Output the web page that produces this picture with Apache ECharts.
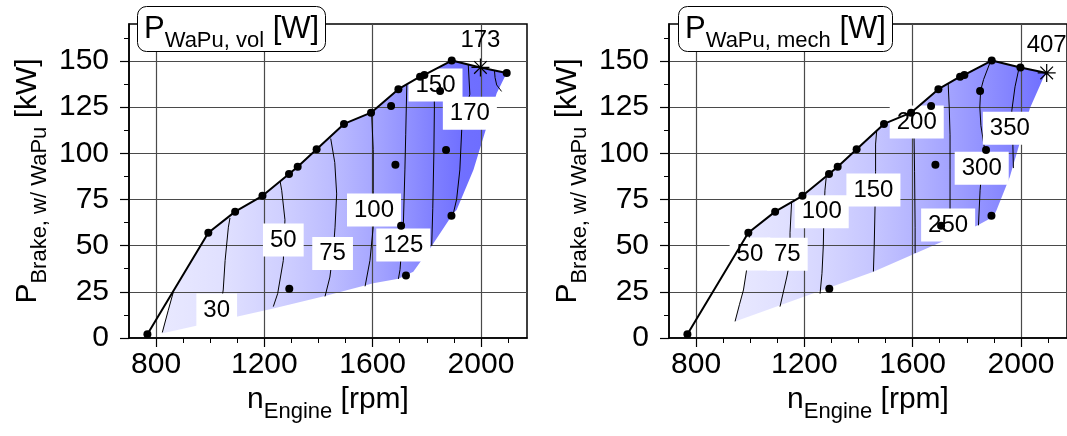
<!DOCTYPE html>
<html><head><meta charset="utf-8">
<script src="https://cdn.jsdelivr.net/npm/echarts@6/dist/echarts.min.js"></script>
<style>html,body{margin:0;padding:0;background:#fff}#c{width:1067px;height:436px}</style>
</head><body><div id="c"></div>
<script>
const FONT = '"Liberation Sans", Arial, Helvetica, sans-serif';

// ---------- axis ticks ----------
const xMajorTicks = [800, 1200, 1600, 2000];
const xMinorTicks = [900, 1000, 1100, 1300, 1400, 1500, 1700, 1800, 1900, 2100];
const yMajorTicks = [0, 25, 50, 75, 100, 125, 150];
const yMinorTicks = [12.5, 37.5, 62.5, 87.5, 112.5, 137.5, 162.5];

// ---------- measured operating points (rpm, kW) ----------
const fullLoad = [[768,2],[993,57],[1092,68.4],[1193,77],[1291,88.8],[1323,92.7],[1393,102.2],[1494,115.9],[1594,122],[1695,134.7],[1775,141.5],[1791,142.4],[1892,150.2],[1998,146.5],[2095,143.5]];
const innerVol  = [[1668,125.6],[1849,133.7],[1871,101.8],[1684,93.8],[1705,60.8],[1891,66.2],[1292,26.7],[1723,33.9]];
const innerMech = [[1668,125.6],[1849,133.7],[1871,101.8],[1684,93.8],[1705,60.8],[1891,66.2],[1292,26.7]];
const maxVol  = [1998, 146.5, '173'];
const maxMech = [2095, 143.5, '407'];

// ---------- map region (lower / right boundary, rpm-kW) ----------
const volEdgeStart  = [[821,2.5],[864,25.5]];
const volEdgeEnd    = [[2058,132.5],[2021,114.4],[1972,90.9],[1910,69.3],[1898,67.5],[1818,49.8],[1750,35.9],[1695,32.1],[1602,29.6],[1424,22.7],[1233,16]];
const mechEdgeStart = [[944,9],[960,18],[975,26],[990,40]];
const mechEdgeEnd   = [[2082,140.6],[2033,124.4],[1959,87.3],[1910,69.3],[1898,65.7],[1842,61.2],[1750,54.8],[1609,45.8],[1455,35.9]];

// ---------- iso-lines P_WaPu,vol [W] ----------
const vol20  = [[823,3],[845,15],[864,25]];
const vol30  = [[1028,8],[1048,26],[1055,42],[1067,60],[1073,65]];
const vol50  = [[1233,17],[1249,24],[1270,42],[1276,64],[1264,80],[1258,85]];
const vol75  = [[1424,22.5],[1442,33],[1455,48],[1461,60],[1467,78],[1460,95],[1445,108]];
const vol100 = [[1572,28],[1590,42],[1602,60],[1602,80],[1602,102],[1596,122]];
const vol125 = [[1695,32],[1701,37],[1713,60],[1719,91],[1722,110],[1726,137]];
const vol150 = [[1818,50],[1822,70],[1826,100],[1828,125],[1826,144]];
const vol170 = [[1898,67.5],[1910,75],[1922,91],[1929,113],[1945,125],[1959,132],[1953,148]];
const vol170b= [[2050,144.5],[2052,141],[2058,137],[2076,133.5]];
const volLevels = [20,30,50,75,100,125,150,170,170];
const volLines  = [vol20,vol30,vol50,vol75,vol100,vol125,vol150,vol170,vol170b];
const volLabels = [[1024,15.1,'30'],[1270,53,'50'],[1452,45.8,'75'],[1605,69.3,'100'],[1713,50.3,'125'],[1832,137,'150'],[1959,121.7,'170']];

// ---------- iso-lines P_WaPu,mech [W] ----------
const mech50  = [[944,9],[960,18],[975,26],[990,40],[998,57]];
const mech75  = [[1110,17],[1135,33],[1147,42],[1147,57],[1153,74]];
const mech100 = [[1258,24],[1265,35],[1270,50],[1272,65],[1276,80],[1282,89]];
const mech150 = [[1455,36],[1458,50],[1461,71],[1463,90],[1463,105],[1467,112]];
const mech200 = [[1609,46],[1609,60],[1607,90],[1605,110],[1600,122]];
const mech250 = [[1738,55],[1738,72],[1738,91],[1738,110],[1735,125],[1731,138]];
const mech300 = [[1843,61],[1849,80],[1858,95],[1866,102],[1852,115],[1848,125],[1851,134],[1862,140],[1888,150]];
const mech350 = [[1972,92],[1970,105],[1966,123],[1978,136],[1994,147]];
const mechLevels = [50,75,100,150,200,250,300,350];
const mechLines  = [mech50,mech75,mech100,mech150,mech200,mech250,mech300,mech350];
const mechLabels = [[999,45.5,'50'],[1137,45.4,'75'],[1264,68.4,'100'],[1455,80.1,'150'],[1615,117,'200'],[1731,61.2,'250'],[1855,91.9,'300'],[1959,113.5,'350']];

// ---------- helpers ----------
function shade(t){ const c = Math.round(248 - 138*Math.max(0,Math.min(1,t))); return 'rgb('+c+','+c+',255)'; }
function mean(a){ return a.reduce((s,p)=>s+p[0],0)/a.length; }
function makeStops(poly, lines, levels, maxPt, vmax){
  const xs = poly.map(p=>p[0]); const x0 = Math.min(...xs), x1 = Math.max(...xs);
  const anchors = lines.map((l,i)=>[mean(l), levels[i]]);
  anchors.push([maxPt[0], +maxPt[2]]);
  anchors.sort((a,b)=>a[0]-b[0]);
  return anchors.map(([r,v])=>({offset: Math.max(0,Math.min(1,(r-x0)/(x1-x0))), color: shade(v/vmax)}));
}
const volPoly  = volEdgeStart.concat(fullLoad.slice(1), volEdgeEnd);
const mechPoly = mechEdgeStart.concat(fullLoad.slice(1), mechEdgeEnd);

const rich = (big, small) => ({
  p: {fontSize: big, fontFamily: FONT, fontWeight: 'normal', color: '#000', verticalAlign: 'top'},
  s: {fontSize: small, fontFamily: FONT, fontWeight: 'normal', color: '#000', verticalAlign: 'top', padding: [16,0,0,0]}
});

function buildPanel(g, poly, lines, levels, labels, inner, maxPt, vmax){
  const ax = g*2;
  const series = [];
  const stops = makeStops(poly, lines, levels, maxPt, vmax);
  series.push({
    type: 'custom', xAxisIndex: ax, yAxisIndex: ax, z: 0, silent: true, data: [[0,0]],
    renderItem: (params, api) => ({
      type: 'polygon',
      shape: {points: poly.map(p => api.coord(p))},
      style: {fill: new echarts.graphic.LinearGradient(0,0,1,0, stops), stroke: null}
    })
  });
  lines.forEach(l => series.push({
    type: 'line', xAxisIndex: ax, yAxisIndex: ax, z: 3, data: l, symbol: 'none', silent: true,
    lineStyle: {color: '#000', width: 1, opacity: 1}
  }));
  series.push({
    type: 'scatter', xAxisIndex: ax, yAxisIndex: ax, z: 4, data: labels, symbolSize: 0.1, silent: true,
    itemStyle: {color: 'rgba(0,0,0,0)', opacity: 1},
    label: {show: true, position: 'inside', formatter: p => p.data[2], fontSize: 24, fontFamily: FONT,
      color: '#000', opacity: 1, backgroundColor: '#fff', padding: [5,7,4,7]}
  });
  series.push({
    type: 'line', xAxisIndex: ax, yAxisIndex: ax, z: 6, data: fullLoad, symbol: 'none', silent: true,
    lineStyle: {color: '#000', width: 2, opacity: 1}
  });
  const dots = fullLoad.filter(p => p[0] !== maxPt[0]).concat(inner);
  series.push({
    type: 'scatter', xAxisIndex: ax, yAxisIndex: ax, z: 7, data: dots, symbol: 'circle', symbolSize: 8, silent: true,
    itemStyle: {color: '#000', opacity: 1}
  });
  series.push({
    type: 'scatter', xAxisIndex: ax, yAxisIndex: ax, z: 7, data: [maxPt], silent: true,
    symbol: 'path://M10,0L10,20M0,10L20,10M3,3L17,17M3,17L17,3', symbolSize: 18,
    itemStyle: {color: 'none', borderColor: '#000', borderWidth: 1.2, opacity: 1},
    label: {show: true, position: 'top', distance: 4, formatter: p => p.data[2], fontSize: 24, fontFamily: FONT, color: '#000', opacity: 1}
  });
  return series;
}

const plain = v => String(v);
function xAxes(g){
  return [{
    gridIndex: g, type: 'value', min: 700, max: 2170, position: 'bottom', z: 1,
    axisLine: {show: true, lineStyle: {color: '#000', width: 1.5}},
    axisTick: {show: true, customValues: xMajorTicks, length: 9, lineStyle: {color: '#000', width: 1.2}},
    axisLabel: {customValues: xMajorTicks, formatter: plain, fontSize: 30, fontFamily: FONT, color: '#000', margin: 12},
    splitLine: {show: true, lineStyle: {color: '#4a4a4a', width: 1.2}},
    name: '{p|n}{s|Engine}{p| [rpm]}', nameLocation: 'middle', nameGap: 38,
    nameTextStyle: {rich: rich(30, 22)}
  },{
    gridIndex: g, type: 'value', min: 700, max: 2170, position: 'bottom', z: 1,
    axisLine: {show: false},
    axisTick: {show: true, customValues: xMinorTicks, length: 5, lineStyle: {color: '#000', width: 1}},
    axisLabel: {show: false}, splitLine: {show: false}
  }];
}
function yAxes(g){
  return [{
    gridIndex: g, type: 'value', min: 0, max: 170, position: 'left', z: 1,
    axisLine: {show: true, lineStyle: {color: '#000', width: 1.5}},
    axisTick: {show: true, customValues: yMajorTicks, length: 9, lineStyle: {color: '#000', width: 1.2}},
    axisLabel: {customValues: yMajorTicks, formatter: plain, fontSize: 30, fontFamily: FONT, color: '#000', margin: 20},
    splitLine: {show: true, lineStyle: {color: '#4a4a4a', width: 1.2}},
    name: '{p|P}{s|Brake, w/ WaPu}{p| [kW]}', nameLocation: 'middle', nameRotate: 90, nameGap: 78,
    nameTextStyle: {rich: rich(30, 22)}
  },{
    gridIndex: g, type: 'value', min: 0, max: 170, position: 'left', z: 1,
    axisLine: {show: false},
    axisTick: {show: true, customValues: yMinorTicks, length: 5, lineStyle: {color: '#000', width: 1}},
    axisLabel: {show: false}, splitLine: {show: false}
  }];
}

const chart = echarts.init(document.getElementById('c'), null, {renderer: 'canvas'});
const titleBox = {backgroundColor: '#fff', borderColor: '#000', borderWidth: 1, borderRadius: 9, padding: [8,7,0,7], z: 10};
chart.setOption({
  animation: false,
  backgroundColor: '#fff',
  title: [
    Object.assign({left: 137, top: 6, text: '{p|P}{s|WaPu, vol}{p| [W]}', textStyle: {fontWeight: 'normal', rich: rich(31, 22)}}, titleBox),
    Object.assign({left: 678, top: 6, text: '{p|P}{s|WaPu, mech}{p| [W]}', textStyle: {fontWeight: 'normal', rich: rich(31, 22)}}, titleBox)
  ],
  grid: [
    {left: 129, top: 24, width: 398, height: 314, show: true, borderColor: '#000', borderWidth: 1.5, backgroundColor: 'transparent', outerBoundsMode: 'none', containLabel: false},
    {left: 669, top: 24, width: 398, height: 314, show: true, borderColor: '#000', borderWidth: 1.5, backgroundColor: 'transparent', outerBoundsMode: 'none', containLabel: false}
  ],
  xAxis: xAxes(0).concat(xAxes(1)),
  yAxis: yAxes(0).concat(yAxes(1)),
  series: buildPanel(0, volPoly, volLines, volLevels, volLabels, innerVol, maxVol, 173)
    .concat(buildPanel(1, mechPoly, mechLines, mechLevels, mechLabels, innerMech, maxMech, 407))
});
</script></body></html>
